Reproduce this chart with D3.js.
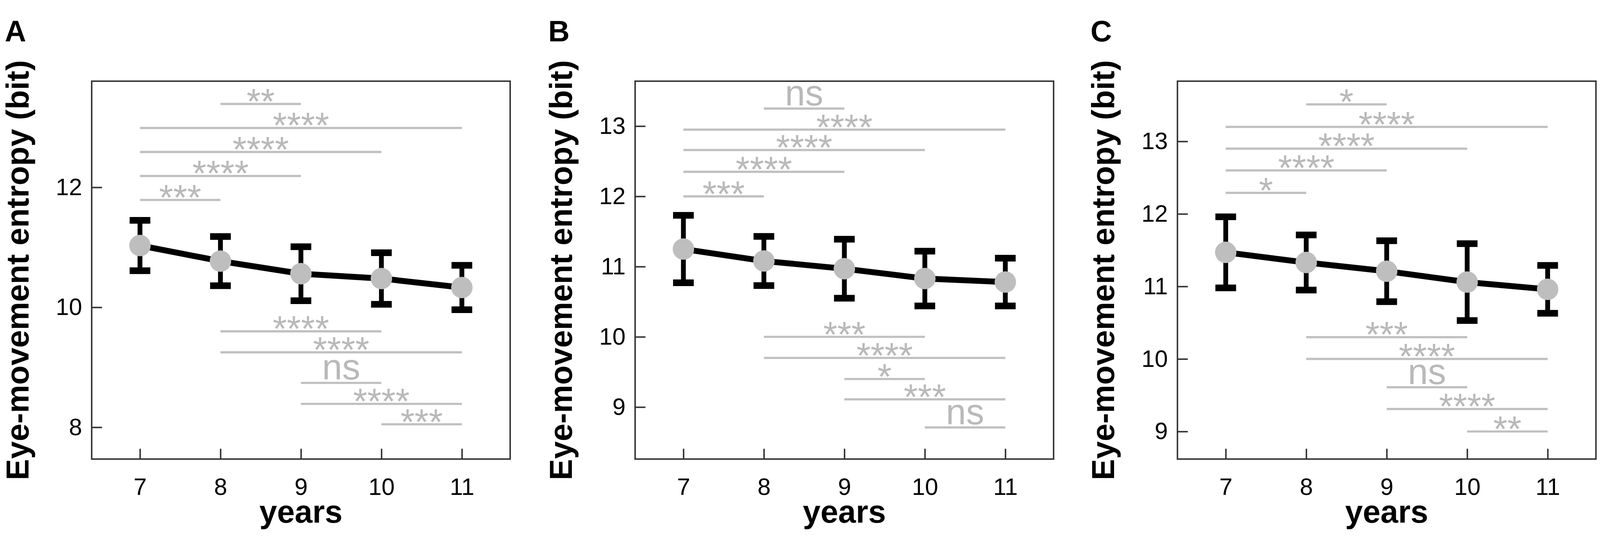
<!DOCTYPE html>
<html>
<head>
<meta charset="utf-8">
<script src="https://cdn.jsdelivr.net/npm/d3@7"></script>
<style>
  html, body { margin: 0; padding: 0; background: #fff; overflow: hidden; }
  svg { display: block; width: 100vw; height: 100vh; font-family: "Liberation Sans", Arial, sans-serif; }
</style>
</head>
<body>
<svg viewBox="0 0 4328 1404" preserveAspectRatio="xMidYMid meet"></svg>
<script>
// ages on the x axis
var years = [7, 8, 9, 10, 11];

// mean entropy and sd per age
var meanA = [11.03, 10.77, 10.56, 10.48, 10.33];
var sdA   = [0.42, 0.41, 0.45, 0.43, 0.37];
var meanB = [11.25, 11.08, 10.97, 10.83, 10.78];
var sdB   = [0.48, 0.35, 0.42, 0.39, 0.34];
var meanC = [11.47, 11.33, 11.21, 11.06, 10.96];
var sdC   = [0.49, 0.38, 0.42, 0.53, 0.33];

// y ticks per panel
var ticksA = [8, 10, 12];
var ticksB = [9, 10, 11, 12, 13];
var ticksC = [9, 10, 11, 12, 13];

// y ranges per panel
var domainA = [7.47, 13.77];
var domainB = [8.26, 13.64];
var domainC = [8.62, 13.83];

// pairwise comparisons (same pairs in every panel)
var pairs = [[8, 9], [7, 11], [7, 10], [7, 9], [7, 8], [8, 10], [8, 11], [9, 10], [9, 11], [10, 11]];
var sigA = ["**", "****", "****", "****", "***", "****", "****", "ns", "****", "***"];
var sigB = ["ns", "****", "****", "****", "***", "***", "****", "*", "***", "ns"];
var sigC = ["*", "****", "****", "****", "*", "***", "****", "ns", "****", "**"];
// height of each bracket, in bits
var sigYA = [13.39, 12.99, 12.59, 12.19, 11.79, 9.60, 9.25, 8.74, 8.39, 8.05];
var sigYB = [13.25, 12.95, 12.66, 12.35, 12.00, 10.00, 9.70, 9.40, 9.11, 8.71];
var sigYC = [13.51, 13.20, 12.90, 12.60, 12.29, 10.30, 10.00, 9.61, 9.31, 9.00];

var panels = [
  {letter: "A", mean: meanA, sd: sdA, ticks: ticksA, domain: domainA, sig: sigA, sigY: sigYA},
  {letter: "B", mean: meanB, sd: sdB, ticks: ticksB, domain: domainB, sig: sigB, sigY: sigYB},
  {letter: "C", mean: meanC, sd: sdC, ticks: ticksC, domain: domainC, sig: sigC, sigY: sigYC}
];

var svg = d3.select("svg"),
    offsets = [0, 1470, 2937],
    margin = {top: 180, left: 248},
    width = 1132,
    height = 1023;

var frameColor = "#333",
    sigColor = "#c0c0c0",
    sigText = "#b9b9b9",
    pointColor = "#bebebe";

svg.append("rect").attr("width", 4328).attr("height", 1404).attr("fill", "#fff");

panels.forEach(function(p, i) {
  var root = svg.append("g").attr("transform", "translate(" + offsets[i] + ",0)");
  var g = root.append("g").attr("transform", "translate(" + margin.left + "," + margin.top + ")");

  var x = d3.scaleLinear().domain([6.4, 11.6]).range([0, width]);
  var y = d3.scaleLinear().domain(p.domain).range([height, 0]);

  var rows = years.map(function(yr, k) {
    return {year: yr, mean: p.mean[k], sd: p.sd[k]};
  });

  // significance brackets
  var sig = g.append("g").attr("class", "sig")
    .selectAll("g")
    .data(pairs.map(function(pr, k) { return {a: pr[0], b: pr[1], label: p.sig[k], y: p.sigY[k]}; }))
    .enter().append("g");

  sig.append("line")
    .attr("x1", function(d) { return x(d.a); })
    .attr("x2", function(d) { return x(d.b); })
    .attr("y1", function(d) { return y(d.y); })
    .attr("y2", function(d) { return y(d.y); })
    .attr("stroke", sigColor)
    .attr("stroke-width", 6);

  sig.append("text")
    .attr("x", function(d) { return x((d.a + d.b) / 2); })
    .attr("y", function(d) { return y(d.y) + (d.label === "ns" ? -9 : 27); })
    .attr("text-anchor", "middle")
    .attr("font-size", 98)
    .attr("fill", sigText)
    .text(function(d) { return d.label; });

  // error bars
  var eb = g.append("g").attr("class", "errorbars")
    .selectAll("g")
    .data(rows)
    .enter().append("g");

  eb.append("line")
    .attr("x1", function(d) { return x(d.year); })
    .attr("x2", function(d) { return x(d.year); })
    .attr("y1", function(d) { return y(d.mean + d.sd); })
    .attr("y2", function(d) { return y(d.mean - d.sd); })
    .attr("stroke", "#000")
    .attr("stroke-width", 13);

  [1, -1].forEach(function(s) {
    eb.append("rect")
      .attr("x", function(d) { return x(d.year) - 28; })
      .attr("y", function(d) { return y(d.mean + s * d.sd) - 9; })
      .attr("width", 56)
      .attr("height", 18)
      .attr("fill", "#000");
  });

  // mean line
  g.append("path")
    .datum(rows)
    .attr("fill", "none")
    .attr("stroke", "#000")
    .attr("stroke-width", 16)
    .attr("stroke-linejoin", "round")
    .attr("d", d3.line()
      .x(function(d) { return x(d.year); })
      .y(function(d) { return y(d.mean); }));

  g.append("g")
    .selectAll("circle")
    .data(rows)
    .enter().append("circle")
    .attr("cx", function(d) { return x(d.year); })
    .attr("cy", function(d) { return y(d.mean); })
    .attr("r", 29)
    .attr("fill", pointColor);

  // axes: ticks point inward, labels outside
  var xAxis = g.append("g")
    .attr("transform", "translate(0," + height + ")")
    .call(d3.axisBottom(x).tickValues(years).tickSize(-28).tickPadding(52).tickFormat(d3.format("d")));

  var yAxis = g.append("g")
    .call(d3.axisLeft(y).tickValues(p.ticks).tickSize(-28).tickPadding(26).tickFormat(d3.format("d")));

  [xAxis, yAxis].forEach(function(ax) {
    ax.select(".domain").remove();
    ax.selectAll(".tick line").attr("stroke", frameColor).attr("stroke-width", 4);
    ax.selectAll(".tick text")
      .attr("font-family", "Liberation Sans, Arial, sans-serif")
      .attr("font-size", 64)
      .attr("fill", "#000");
  });

  // frame
  g.append("rect")
    .attr("width", width)
    .attr("height", height)
    .attr("fill", "none")
    .attr("stroke", frameColor)
    .attr("stroke-width", 4);

  // y-axis label
  root.append("text")
    .attr("transform", "translate(" + 77 + "," + (margin.top + height / 2) + ") rotate(-90)")
    .attr("text-anchor", "middle")
    .attr("font-weight", "bold")
    .attr("font-size", 86)
    .attr("fill", "#000")
    .text("Eye-movement entropy (bit)");

  // x-axis label
  root.append("text")
    .attr("x", margin.left + width / 2)
    .attr("y", 1375)
    .attr("text-anchor", "middle")
    .attr("font-weight", "bold")
    .attr("font-size", 86)
    .attr("fill", "#000")
    .text("years");

  // panel letter
  root.append("text")
    .attr("x", 13)
    .attr("y", 72)
    .attr("font-weight", "bold")
    .attr("font-size", 80)
    .attr("fill", "#000")
    .text(p.letter);
});
</script>
</body>
</html>
